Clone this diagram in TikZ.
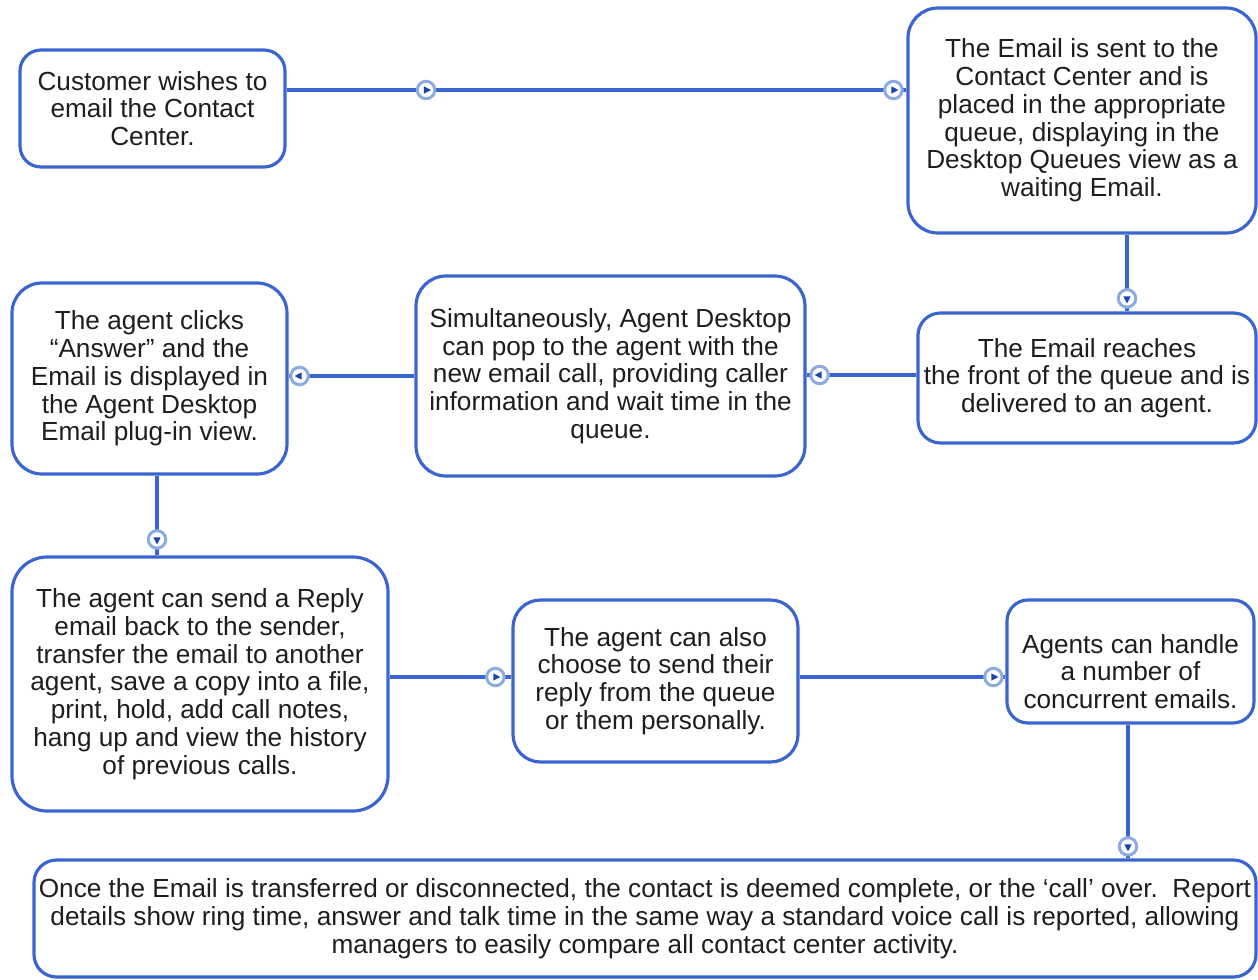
\documentclass[tikz,border=0pt]{standalone}
\usepackage{fontspec}
\setmainfont{Liberation Sans}
\usetikzlibrary{calc}
\definecolor{boxblue}{RGB}{58,100,208}
\definecolor{ringblue}{RGB}{140,172,225}
\definecolor{triblue}{RGB}{30,70,170}
\definecolor{txt}{RGB}{30,30,30}
\tikzset{
  boxtext/.style={align=center, text=txt, font=\fontsize{14.9}{15.8}\selectfont, inner sep=0pt},
  box/.style={boxtext, draw=boxblue, line width=1.8pt, fill=white},
  conn/.style={draw=boxblue, line width=1.9pt},
  flowmark/.pic={
    \draw[ringblue, line width=1.7pt, fill=white] (0,0) circle (0.175);
    \fill[triblue] (0:0.1) -- (120:0.085) -- (240:0.085) -- cycle;
  }
}
\begin{document}
\begin{tikzpicture}
\useasboundingbox (0,0) rectangle (25.16,-19.6);

\node[box, minimum width=5.3cm, minimum height=2.34cm, rounded corners=0.42cm] (b1) at (3.05,-2.17)
  {Customer wishes to\\email the Contact\\Center.};
\node[box, minimum width=6.96cm, minimum height=4.5cm, rounded corners=0.6cm] (b2) at (21.64,-2.41)
  {The Email is sent to the\\Contact Center and is\\placed in the appropriate\\queue, displaying in the\\Desktop Queues view as a\\waiting Email.};
\node[box, minimum width=6.76cm, minimum height=2.6cm, rounded corners=0.45cm] (b3) at (21.74,-7.56)
  {The Email reaches\\the front of the queue and is\\delivered to an agent.};
\node[box, minimum width=7.78cm, minimum height=4.0cm, rounded corners=0.6cm] (b4) at (12.21,-7.52)
  {Simultaneously, Agent Desktop\\can pop to the agent with the\\new email call, providing caller\\information and wait time in the\\queue.};
\node[box, minimum width=5.5cm, minimum height=3.82cm, rounded corners=0.6cm] (b5) at (2.99,-7.57)
  {The agent clicks\\``Answer'' and the\\Email is displayed in\\the Agent Desktop\\Email plug-in view.};
\node[box, minimum width=7.52cm, minimum height=5.08cm, rounded corners=0.7cm] (b6) at (4.0,-13.68)
  {The agent can send a Reply\\email back to the sender,\\transfer the email to another\\agent, save a copy into a file,\\print, hold, add call notes,\\hang up and view the history\\of previous calls.};
\node[box, minimum width=5.7cm, minimum height=3.24cm, rounded corners=0.55cm] (b7) at (13.11,-13.62)
  {The agent can also\\choose to send their\\reply from the queue\\or them personally.};
\node[box, minimum width=4.94cm, minimum height=2.46cm, rounded corners=0.42cm,
  label={[boxtext, yshift=-0.2cm]center:Agents can handle\\a number of\\concurrent emails.}] (b8) at (22.61,-13.23) {};
\node[box, minimum width=24.44cm, minimum height=2.34cm, rounded corners=0.45cm] (b9) at (12.9,-18.37)
  {Once the Email is transferred or disconnected, the contact is deemed complete, or the `call' over.\ \ Report\\details show ring time, answer and talk time in the same way a standard voice call is reported, allowing\\managers to easily compare all contact center activity.};

% connectors
\draw[conn] ([yshift=0.37cm]b1.east) coordinate (c1s) -- (c1s -| b2.west) coordinate (c1e);
\draw[conn] ([xshift=0.9cm]b2.south) coordinate (c2s) -- (c2s |- b3.north) coordinate (c2e);
\draw[conn] ([yshift=0.06cm]b3.west) coordinate (c3s) -- (c3s -| b4.east) coordinate (c3e);
\draw[conn] (b4.west) coordinate (c4s) -- (c4s -| b5.east) coordinate (c4e);
\draw[conn] ([xshift=0.15cm]b5.south) coordinate (c5s) -- (c5s |- b6.north) coordinate (c5e);
\draw[conn] ([yshift=0.14cm]b6.east) coordinate (c6s) -- (c6s -| b7.west) coordinate (c6e);
\draw[conn] ([yshift=0.08cm]b7.east) coordinate (c7s) -- (c7s -| b8.west) coordinate (c7e);
\draw[conn] ([xshift=-0.05cm]b8.south) coordinate (c8s) -- (c8s |- b9.north) coordinate (c8e);

% flow markers
\pic at ($(c1s)!0.225!(c1e)$) {flowmark};
\pic at ($(c1e)+(-0.26,0)$) {flowmark};
\pic[rotate=-90] at ($(c2e)+(0,0.26)$) {flowmark};
\pic[rotate=180] at ($(c3e)+(0.26,0)$) {flowmark};
\pic[rotate=180] at ($(c4e)+(0.22,0)$) {flowmark};
\pic[rotate=-90] at ($(c5e)+(0,0.32)$) {flowmark};
\pic at ($(c6e)+(-0.32,0)$) {flowmark};
\pic at ($(c7e)+(-0.24,0)$) {flowmark};
\pic[rotate=-90] at ($(c8e)+(0,0.24)$) {flowmark};
\end{tikzpicture}
\end{document}
